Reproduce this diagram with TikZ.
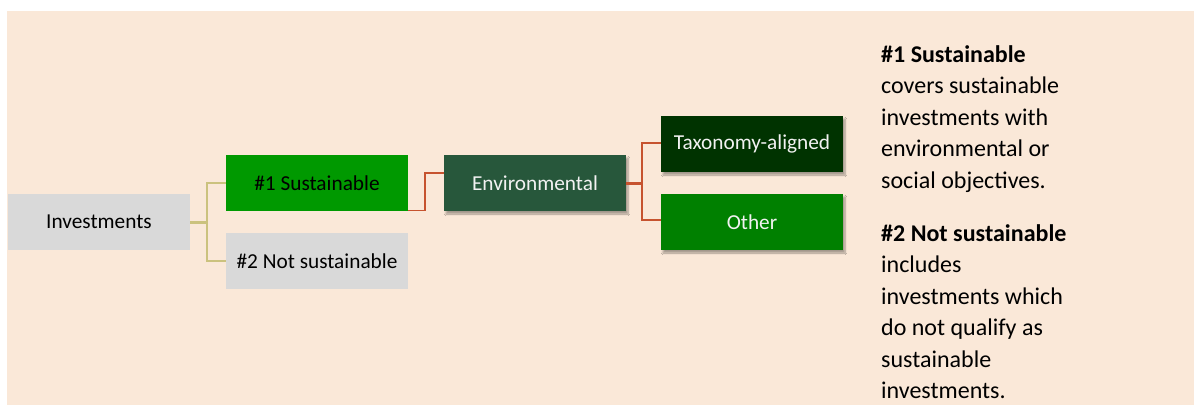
\documentclass[tikz,border=0pt]{standalone}
\usepackage{fontspec}
\setmainfont{Carlito}
\usetikzlibrary{shadows.blur}
\definecolor{bg}{HTML}{FAE8D8}
\definecolor{greyfill}{HTML}{D9D9D9}
\definecolor{sgreen}{HTML}{009900}
\definecolor{envgreen}{HTML}{27573B}
\definecolor{taxgreen}{HTML}{003300}
\definecolor{othgreen}{HTML}{008000}
\definecolor{olive}{HTML}{CBC27E}
\definecolor{rust}{HTML}{C6532F}
\tikzset{
  box/.style={minimum width=182pt, minimum height=56pt, inner sep=0pt, draw=none,
    font=\fontsize{21.3}{25}\selectfont},
  greybox/.style={box, fill=greyfill, text=black},
  shbox/.style={box, text=white!95!black, blur shadow={shadow xshift=2pt, shadow yshift=-3pt, shadow blur steps=6, shadow opacity=35}},
  oline/.style={draw=olive, line width=1.4pt},
  rline/.style={draw=rust, line width=1.4pt},
  txt/.style={anchor=base west, inner sep=0pt, font=\fontsize{24}{30}\selectfont},
}
\begin{document}
\begin{tikzpicture}[x=1pt,y=-1pt]
\useasboundingbox (0,0) rectangle (1194,405);
\fill[bg] (7,11) rectangle (1194,405);
% nodes
\node[greybox] (inv) at (99,222) {Investments};
\node[box, fill=sgreen, text=black] (s1) at (317,183) {\#1 Sustainable};
\node[greybox] (s2) at (317,261) {\#2 Not sustainable};
\node[shbox, fill=envgreen] (env) at (535,183) {Environmental};
\node[shbox, fill=taxgreen] (tax) at (752,144) {Taxonomy-aligned};
\node[shbox, fill=othgreen] (oth) at (752,222) {Other};
% connectors
\coordinate (j1) at (207,222);
\draw[oline, line width=3pt] (inv.east) -- (j1);
\draw[oline] (s1.west) -| (j1) |- (s2.west);
\coordinate (j2) at (425,192);
\draw[rline] ([yshift=1pt]s1.south east) -| (j2) |- ([yshift=10pt]env.west);
\coordinate (j3) at (642,183);
\draw[rline, line width=3pt] (env.east) -- (j3);
\draw[rline] ([yshift=1pt]tax.west) -| (j3) |- ([yshift=2pt]oth.west);
% description text
\node[txt] (l1) at (881,62) {\textbf{\#1 Sustainable}};
\node[txt] (l2) at (881,93.5) {covers sustainable};
\node[txt] (l3) at (881,125) {investments with};
\node[txt] (l4) at (881,156.5) {environmental or};
\node[txt] (l5) at (881,188) {social objectives.};
\node[txt] (l6) at (881,241) {\textbf{\#2 Not sustainable}};
\node[txt] (l7) at (881,272.5) {includes};
\node[txt] (l8) at (881,304) {investments which};
\node[txt] (l9) at (881,335.5) {do not qualify as};
\node[txt] (l10) at (881,367) {sustainable};
\node[txt] (l11) at (881,398) {investments.};
\end{tikzpicture}
\end{document}
